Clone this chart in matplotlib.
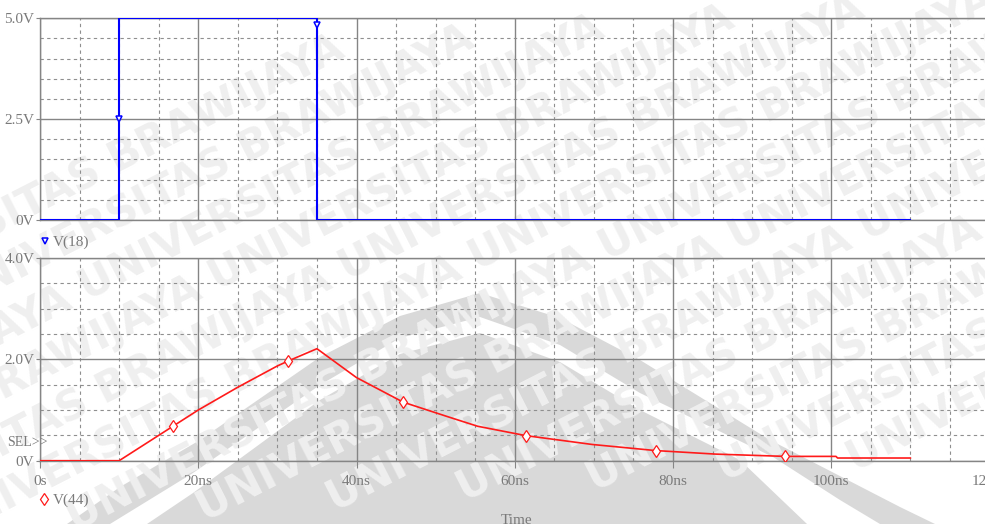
import matplotlib
matplotlib.use("Agg")
import matplotlib.pyplot as plt
from matplotlib.patches import Polygon
from matplotlib.ticker import MultipleLocator

# V(18): input pulse
v18_t = [0, 10, 10, 35, 35, 110]
v18_v = [0, 0, 5.0, 5.0, 0, 0]
v18_mark_t = [10, 35]
v18_mark_v = [2.5, 4.83]

# V(44): RC response
v44_t = [0, 10, 16.8, 20, 25, 30, 31.4, 35, 40, 45.9, 51.3, 55.3, 61.4,
         69.8, 77.8, 85.4, 94.2, 100.6, 100.8, 110]
v44_v = [0, 0, 0.68, 1.0, 1.45, 1.87, 1.97, 2.21, 1.64, 1.155, 0.88, 0.68,
         0.495, 0.32, 0.20, 0.13, 0.085, 0.085, 0.053, 0.053]
v44_mark_t = [16.8, 31.4, 45.9, 61.4, 77.8, 94.2]
v44_mark_v = [0.68, 1.97, 1.155, 0.495, 0.20, 0.085]

x_ticks = [0, 20, 40, 60, 80, 100, 120]
x_labels = ["0s", "20ns", "40ns", "60ns", "80ns", "100ns", "120ns"]
top_ticks = [0, 2.5, 5.0]
top_labels = ["0V", "2.5V", "5.0V"]
bot_ticks = [0, 2.0, 4.0]
bot_labels = ["0V", "2.0V", "4.0V"]

watermark = "UNIVERSITAS BRAWIJAYA UNIVERSITAS BRAWIJAYA"

W, H = 985, 524
GRAY = "#858585"
TXT = "#7a7a7a"
FONT = "Liberation Serif"

fig = plt.figure(figsize=(W / 100, H / 100), dpi=100)
fig.patch.set_facecolor("white")

# watermark behind the plots (pixel coordinates)
bg = fig.add_axes([0, 0, 1, 1], zorder=0)
bg.set_xlim(0, W)
bg.set_ylim(H, 0)
bg.axis("off")
for i in range(-4, 9):
    bg.text(-200 + i * 130, 560 - i * 10, watermark,
            rotation=27, fontsize=30, fontweight="bold", color="#efefef",
            family="DejaVu Sans", ha="left", va="bottom", clip_on=True)
outer = [(67, 524), (120, 487), (200, 440), (320, 357), (400, 316), (480, 293),
         (560, 318), (640, 360), (770, 440), (900, 507), (935, 524)]
white = [(110, 524), (193, 473), (320, 385), (400, 338), (480, 317),
         (560, 345), (640, 393), (773, 457), (840, 500), (880, 524)]
inner = [(147, 524), (193, 493), (320, 400), (400, 354), (480, 333),
         (560, 362), (640, 410), (740, 460), (807, 524)]
bg.add_patch(Polygon(outer, closed=True, facecolor="#d9d9d9", edgecolor="none"))
bg.add_patch(Polygon(white, closed=True, facecolor="white", edgecolor="none"))
bg.add_patch(Polygon(inner, closed=True, facecolor="#d9d9d9", edgecolor="none"))


def style_axes(ax, yticks, ylabels, ymax, show_x):
    ax.set_facecolor("none")
    ax.set_xlim(0, 120)
    ax.set_ylim(0, ymax)
    ax.set_xticks(x_ticks)
    ax.xaxis.set_minor_locator(MultipleLocator(5))
    ax.set_yticks(yticks)
    ax.yaxis.set_minor_locator(MultipleLocator(0.5))
    ax.set_yticklabels(ylabels, family=FONT, fontsize=11, color=TXT)
    if show_x:
        ax.set_xticklabels(x_labels, family=FONT, fontsize=11, color=TXT)
        ax.tick_params(axis="x", which="major", length=5, color=GRAY, pad=5)
    else:
        ax.set_xticklabels([])
        ax.tick_params(axis="x", which="major", length=0)
    ax.tick_params(axis="y", which="major", length=3, color=GRAY, pad=1)
    ax.tick_params(which="minor", length=0)
    ax.grid(which="major", color=GRAY, lw=1.0, ls="-")
    ax.grid(which="minor", color="#8f8f8f", lw=0.8, ls=(0, (3, 3)))
    ax.set_axisbelow(True)
    for s in ax.spines.values():
        s.set_color(GRAY)
        s.set_linewidth(1.0)


left = 40 / W
width = 949.5 / W
ax1 = fig.add_axes([left, (H - 220) / H, width, 201.7 / H], zorder=1)
ax2 = fig.add_axes([left, (H - 460.7) / H, width, 202.7 / H], zorder=1)
style_axes(ax1, top_ticks, top_labels, 5.0, False)
style_axes(ax2, bot_ticks, bot_labels, 4.0, True)

ax1.plot(v18_t, v18_v, color="#0000ff", lw=1.5, zorder=3)
ax1.plot(v18_mark_t, v18_mark_v, ls="none", marker="v", ms=5, mfc="white",
         mec="#0000ff", mew=1.1, zorder=4)

ax2.plot(v44_t, v44_v, color="#ff1a1a", lw=1.2, zorder=3)
ax2.plot(v44_mark_t, v44_mark_v, ls="none", marker="d", ms=6, mfc="white",
         mec="#ff1a1a", mew=0.9, zorder=4)

# trace legends and labels in pixel space
fg = fig.add_axes([0, 0, 1, 1], zorder=2)
fg.set_xlim(0, W)
fg.set_ylim(H, 0)
fg.axis("off")
fg.plot([45], [241], ls="none", marker="v", ms=5, mfc="white", mec="#0000ff", mew=1.1)
fg.text(53, 242, "V(18)", family=FONT, fontsize=11, color=TXT, va="center")
fg.plot([44], [499], ls="none", marker="d", ms=6, mfc="white", mec="#ff1a1a", mew=0.9)
fg.text(53, 500, "V(44)", family=FONT, fontsize=11, color=TXT, va="center")
fg.text(7, 443, "SEL>>", family=FONT, fontsize=10, color=TXT, va="center")
fg.text(517, 521, "Time", family=FONT, fontsize=11, color=TXT, ha="center", va="center")

fig.savefig("out.png", dpi=100)
